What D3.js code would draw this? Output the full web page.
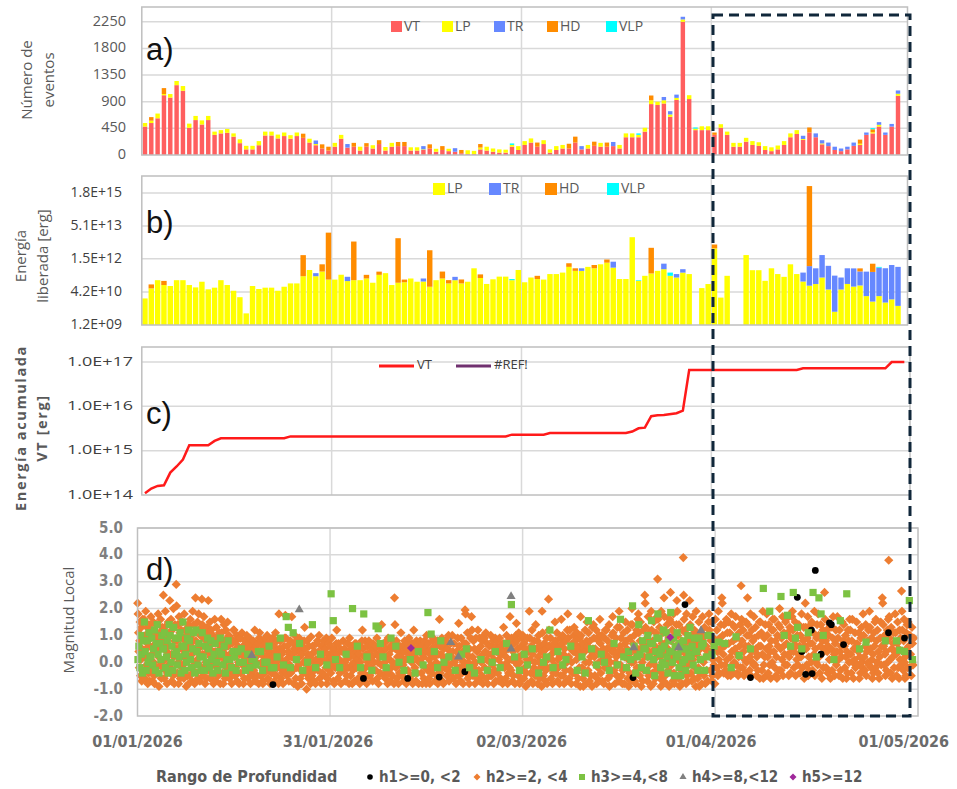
<!DOCTYPE html>
<html>
<head>
<meta charset="utf-8">
<script src="https://cdnjs.cloudflare.com/ajax/libs/d3/7.8.5/d3.min.js"></script>
<style>
    body { margin: 0; background: #fff; }
    svg { display: block; font-family: "Open Sans", "DejaVu Sans", sans-serif; }
    .narrow { font-family: "Liberation Sans Narrow", "DejaVu Sans Condensed", sans-serif; font-weight: bold; }
</style>
</head>
<body>
<div id="chart"></div>
<script>
(function(d3) {
    'use strict';

    // ---- categories (one per day, 01/01/2026 .. 01/05/2026)
    var startDate = new Date(2026, 0, 1);
    var days = d3.range(121);
    var dateLabels = ['01/01/2026', '31/01/2026', '02/03/2026', '01/04/2026', '01/05/2026'];

    // ---- a) number of events per day
    var countKeys = ['VT', 'LP', 'TR', 'HD', 'VLP'];
    var vtCount = [480,540,620,1010,970,1180,1085,460,590,515,
        590,340,365,375,310,200,95,95,165,330,
        330,280,320,275,320,290,210,165,110,75,
        140,275,125,140,75,140,110,185,75,140,
        150,150,75,75,85,110,55,85,65,55,
        30,15,15,95,75,55,40,40,140,85,
        170,210,140,185,40,85,110,110,210,95,
        110,155,140,140,150,110,300,300,300,395,
        860,845,870,645,930,2250,945,420,420,420,
        340,460,340,140,140,225,170,155,85,65,
        95,170,300,355,255,380,300,180,150,85,
        65,95,155,170,340,365,480,340,480,1000,
        0];
    var lpCount = [60,40,80,20,60,70,80,70,70,70,
        70,55,55,65,55,65,60,60,70,65,
        65,65,60,60,60,0,65,20,0,0,
        65,65,0,0,65,0,55,0,60,65,
        0,0,55,55,10,0,50,0,40,0,
        0,65,55,30,65,55,55,50,30,65,
        65,70,0,65,55,65,60,0,0,0,
        60,0,65,0,0,60,65,65,40,65,
        65,55,55,40,35,40,65,25,65,65,
        0,60,55,65,65,65,65,60,65,65,
        65,65,65,65,15,0,0,15,0,0,
        0,0,0,20,0,20,30,0,0,35,
        0];
    var trCount = [0,0,0,0,0,0,0,0,0,0,
        0,0,0,0,0,0,0,0,0,0,
        0,0,0,0,0,0,0,60,0,0,
        0,0,60,0,0,0,0,0,0,0,
        0,0,0,0,55,0,0,0,0,60,
        0,0,0,0,0,0,0,0,0,0,
        0,0,0,0,0,0,0,0,0,55,
        0,0,0,0,70,0,0,0,0,0,
        0,0,55,55,55,45,0,0,0,0,
        0,0,0,0,0,0,0,0,0,0,
        0,0,0,0,55,0,65,55,60,55,
        45,45,55,0,40,0,45,40,45,55,
        0];
    var hdCount = [0,60,0,100,0,0,0,0,0,0,
        0,0,0,0,0,0,0,0,0,0,
        0,0,0,0,0,70,0,0,70,65,
        0,0,0,65,0,60,0,65,0,0,
        70,70,0,0,0,70,0,65,0,0,
        55,0,0,60,0,0,0,0,0,0,
        0,0,70,0,0,0,0,80,100,0,
        0,70,0,70,0,0,0,0,0,0,
        80,0,0,0,0,0,0,0,0,0,
        40,0,0,0,0,0,0,0,0,0,
        0,0,0,0,0,85,0,0,0,0,
        0,0,0,70,0,50,0,0,0,0,
        0];
    var vlpCount = [0,0,0,0,0,0,0,0,0,0,
        0,0,0,0,0,0,0,0,0,0,
        0,0,0,0,0,0,0,0,0,0,
        0,0,0,0,0,0,0,0,0,0,
        0,0,0,0,0,0,0,0,0,0,
        0,0,0,0,0,0,0,0,25,0,
        0,0,0,0,0,0,0,0,0,0,
        0,0,0,0,0,0,0,0,25,0,
        0,0,0,0,0,0,0,20,0,0,
        0,0,0,0,0,0,0,0,0,0,
        0,0,0,0,0,0,0,0,0,0,
        0,0,0,0,0,20,0,0,0,0,
        0];
    var countTicks = [0, 450, 900, 1350, 1800, 2250];

    // ---- b) released energy per day [erg]
    var energyKeys = ['LP', 'TR', 'HD', 'VLP'];
    var lpEnergy = [2.1e10,6.2e10,1.5e11,8.9e10,8.0e10,1.5e11,1.5e11,8.9e10,6.9e10,1.27e11,
        5.6e10,6.7e10,1.5e11,8.9e10,4.8e10,2.4e10,4.2e9,8.0e10,5.8e10,6.7e10,
        6.7e10,4.8e10,7.4e10,1.06e11,1.06e11,2.3e11,4.5e11,2.3e11,3.8e11,1.6e11,
        1.6e11,2.7e11,1.36e11,1.5e11,1.5e11,1.8e11,1.14e11,2.67e11,3.2e11,8.9e10,
        1.14e11,1.2e11,1.8e11,1.27e11,1.3e11,7.4e10,1.5e11,1.8e11,1.06e11,1.5e11,
        1.06e11,1.27e11,5.4e11,1.9e11,1.0e11,1.65e11,2.2e11,2.2e11,1.5e11,4.5e11,
        1.2e11,2.0e11,1.7e11,1.6e11,2.9e11,2.9e11,3.4e11,6.3e11,4.1e11,4.1e11,
        6.3e11,5.4e11,8.3e11,9.9e11,5.8e11,1.7e11,1.7e11,1.54e13,1.4e11,2.4e11,
        3.1e11,4.1e11,4.9e11,2.4e11,2.0e11,3.4e11,2.9e11,0,6.4e10,9.9e10,
        4.6e12,2.3e10,2.4e11,0,0,2.25e12,4.4e11,4.4e11,1.4e11,5.4e11,
        2.9e11,2.15e11,8.3e11,2.9e11,1.3e11,8.3e10,9.9e10,2.0e11,5.5e10,5e9,
        5.5e10,1.0e11,7.5e10,8.5e10,2.7e10,1.5e10,2.7e10,1.35e10,1.9e10,9.4e9,
        0];
    var trEnergy = [[27,9e10],[32,8e10],[44,5e10],[49,6.5e10],[69,1.3e11],[74,5.2e11],
        [82,4e11],[84,9e10],[85,1.5e11],[104,2.1e11],[105,6e11],[106,4.4e11],[107,2.05e12],
        [108,6.5e11],[109,2.4e11],[110,1.45e11],[111,4.4e11],[112,4.6e11],[113,3e11],
        [114,3.5e11],[115,3.5e11],[116,5.5e11],[117,5.3e11],[118,7.5e11],[119,6.2e11]];
    var hdEnergy = [[1,3.3e10],[3,5e10],[25,2.0e12],[28,4.5e11],[29,2.5e13],[33,9.5e12],
        [35,8.7e10],[37,1.1e11],[40,1.37e13],[41,4e10],[45,3.7e12],[47,2e11],[48,4.5e10],
        [50,5.6e10],[53,9e10],[62,7e10],[67,3e11],[68,1.3e11],[71,2.3e11],[73,4e11],
        [80,4.6e12],[90,2.4e12],[105,3.8e15],[113,1.5e11],[115,5.2e11]];
    var vlpEnergy = [[58,2e10],[78,1e10],[83,1e11],[116,5e10]];
    var energyTicks = [1.2e9, 4.2e10, 1.5e12, 5.1e13, 1.8e15];

    // ---- c) accumulated VT energy [erg]
    var cumDays = [0,1,2,3,4,5,6,7,10,11,12,22,23,57,58,63,64,76,77,78,79,80,81,82,84,85,86,103,104,117,118,120];
    var cumEnergy = [1.1e14,1.4e14,1.6e14,1.65e14,3.2e14,4.4e14,6.3e14,1.32e15,1.32e15,1.66e15,1.9e15,1.9e15,
        2.1e15,2.1e15,2.3e15,2.3e15,2.5e15,2.5e15,2.7e15,3.2e15,3.3e15,6.0e15,6.3e15,6.4e15,7.0e15,8.0e15,
        6.6e16,6.6e16,7.2e16,7.2e16,1.0e17,1.0e17];
    var cumTicks = [1e14, 1e15, 1e16, 1e17];

    // ---- d) local magnitude by depth range (one string of magnitudes per day)
    var h2ByDay = [
        '2.2 1.8 1.1 0.4 -0.2 0.8 1.5 -0.5 0.1 1.3', '1.6 0.2 -0.6 1.0 1.9 0.5 -0.1 1.3 0.7 -0.8',
        '0.9 1.7 -0.3 0.3 1.2 -0.7 0.6 1.5 0.0 -0.5', '1.4 -0.4 0.8 1.8 0.2 -0.9 1.1 0.5 -0.1 1.6',
        '2.5 0.7 -0.6 1.3 0.1 1.9 -0.3 0.9 0.4 -0.8', '2.3 1.0 -0.2 1.6 0.3 -0.7 1.2 0.6 -0.5 2.0',
        '2.9 2.1 0.8 -0.4 1.4 0.0 -0.8 1.7 0.5 1.1', '1.5 -0.1 0.9 -0.6 1.8 0.4 1.2 -0.3 0.7 -0.9',
        '1.3 0.2 -0.5 1.6 0.6 -0.2 1.0 -0.7 0.3 1.9', '2.4 0.8 -0.4 1.2 0.1 1.5 -0.6 0.5 1.8 -0.1',
        '2.35 1.4 0.3 -0.5 0.9 1.7 -0.2 0.6 -0.8 1.1', '2.3 1.0 -0.3 0.5 1.5 -0.6 0.2 1.2 0.7 -0.1',
        '1.6 0.4 -0.7 0.9 1.3 -0.2 0.1 0.7 -0.5', '1.6 1.1 0.2 -0.4 0.8 -0.8 0.5 1.4 0.0',
        '1.5 0.6 -0.3 1.0 -0.6 0.3 0.9 -0.1', '1.2 0.2 -0.5 0.8 -0.2 0.5 1.0 -0.7',
        '0.9 -0.4 0.4 1.1 -0.1 0.6 -0.8', '1.0 0.3 -0.6 0.7 -0.2 0.1 0.9 -0.4',
        '0.8 -0.3 0.5 1.2 -0.7 0.2 0.6', '1.1 0.4 -0.5 0.8 0.0 -0.2 0.6 -0.8',
        '0.7 -0.1 1.0 0.3 -0.6 0.5 -0.3', '0.9 0.2 -0.4 0.6 -0.7 0.4 1.1',
        '1.8 0.5 -0.2 0.8 -0.6 0.1 0.3 -0.4', '1.75 0.9 0.1 -0.5 0.6 -0.2 0.4',
        '1.7 0.3 -0.3 0.7 -0.8 0.5 1.0', '0.6 -0.1 0.9 0.2 -0.6 0.4 -0.3',
        '1.3 0.5 -0.4 0.1 -1.0 0.8 -0.2', '0.95 0.3 -0.5 0.6 -0.2 0.0 -0.7',
        '0.8 -0.3 0.4 1.0 -0.6 0.2', '0.7 0.1 -0.5 0.5 -0.2 0.9 -0.8',
        '0.6 -0.4 0.2 0.9 -0.1 0.4 -0.7', '1.2 0.3 -0.6 0.7 -0.2 0.1',
        '0.8 -0.3 0.5 0.0 -0.7 0.3', '0.9 0.2 -0.5 0.6 -0.1 -0.8',
        '0.7 -0.2 0.4 0.1 -0.6 0.5', '1.2 0.5 -0.4 0.2 -0.7 0.8',
        '0.8 0.1 -0.5 0.4 -0.2 0.6', '0.6 -0.3 0.3 0.9 -0.6 0.0',
        '1.4 0.4 -0.1 0.7 -0.5 0.2', '0.9 -0.4 0.3 0.1 -0.7 0.6',
        '2.4 1.4 0.5 -0.2 0.8 -0.6 0.2', '1.1 0.2 -0.5 0.6 -0.1 0.4',
        '0.7 -0.3 0.3 0.9 -0.6 0.1', '1.2 0.5 -0.2 0.3 -0.7 0.8',
        '0.8 0.0 -0.4 0.6 -0.8 0.3', '1.0 0.4 -0.3 0.7 -0.6 0.1',
        '0.9 -0.2 0.5 0.2 -0.7 0.6', '1.6 0.6 -0.4 0.3 -0.1 0.9 -0.7',
        '0.8 0.1 -0.5 0.5 -0.3 1.0', '1.0 0.4 -0.6 0.7 0.0 -0.3',
        '1.45 0.6 -0.2 0.3 -0.7 0.9 0.1', '1.95 1.8 0.7 -0.4 0.3 1.1 -0.6 0.0',
        '1.7 1.2 0.2 -0.5 0.8 -0.1 0.5', '1.2 0.5 -0.3 0.9 -0.7 0.2 0.6',
        '0.9 -0.2 0.4 1.1 -0.6 0.1 0.7', '1.0 0.3 -0.5 0.6 -0.1 0.8 -0.8',
        '0.8 -0.4 0.5 0.1 -0.7 0.9 0.3', '1.3 0.4 -0.2 0.7 -0.6 0.2 1.0',
        '1.7 0.6 -0.3 0.9 0.1 -0.7 0.4', '1.45 0.8 -0.1 0.5 -0.5 1.1 0.2 -0.8',
        '1.0 0.3 -0.6 0.7 -0.2 0.5 -0.9', '1.9 0.9 0.1 -0.4 0.6 -0.7 1.2 0.3',
        '1.4 0.5 -0.3 0.8 -0.8 0.2 1.0', '1.9 1.1 0.4 -0.5 0.7 -0.1 0.2 -0.7',
        '2.35 1.2 0.6 -0.2 0.9 -0.6 0.3', '1.5 0.8 -0.4 0.4 1.1 -0.7 0.1',
        '1.6 0.7 -0.1 1.0 -0.5 0.3 -0.8 0.5', '1.8 0.9 0.2 -0.6 1.2 -0.3 0.5',
        '1.3 0.4 -0.4 0.8 -0.8 0.1 1.1 0.6', '1.7 1.0 0.3 -0.2 0.7 -0.6 -0.9 0.5',
        '1.5 0.6 -0.3 1.1 0.0 -0.7 0.8', '1.4 0.9 0.2 -0.5 0.5 -0.1 1.2 -0.8',
        '1.6 0.7 -0.4 0.3 1.0 -0.7 0.1', '1.2 0.5 -0.2 0.8 -0.6 0.2 1.4 -0.9',
        '1.7 1.1 0.4 -0.3 0.6 -0.8 0.0 0.9', '1.9 1.3 0.6 -0.1 0.9 -0.5 0.3 -0.8',
        '1.5 0.8 -0.2 0.5 1.2 -0.6 0.1 -0.9', '2.0 1.4 0.7 0.0 -0.4 1.0 -0.7 0.4',
        '1.8 1.1 0.3 -0.5 0.8 1.5 -0.2 -0.9 0.5', '2.5 2.2 1.3 0.6 -0.3 0.9 -0.7 0.2 1.7',
        '1.9 1.2 0.4 -0.4 0.8 -0.8 1.5 0.1 -0.1', '3.1 1.6 0.9 -0.2 0.5 1.3 -0.6 0.2 -0.9 1.9',
        '2.4 1.7 0.7 -0.5 1.1 0.3 -0.8 1.4 0.0', '2.6 1.5 0.8 -0.1 1.2 0.4 -0.7 1.8 -0.4',
        '2.3 1.9 1.0 0.2 -0.6 1.4 0.6 -0.9 0.0', '3.9 2.5 1.6 0.7 -0.3 1.1 0.3 -0.8 1.8 -0.5',
        '2.3 1.4 0.5 -0.4 1.0 -0.7 0.8 1.7 0.1', '1.9 1.1 0.3 -0.6 0.7 -0.2 1.5 -0.9',
        '1.7 0.9 0.0 -0.5 1.3 0.5 -0.8 0.2', '1.8 1.2 0.4 -0.3 0.8 1.5 -0.7',
        '1.6 0.8 -0.2 1.2 0.4 -0.5 1.9', '2.4 2.2 1.0 0.3 -0.4 1.4 0.6 -0.1',
        '1.5 0.7 -0.3 1.1 0.2 -0.5 1.8', '1.3 0.5 1.7 -0.1 0.9 -0.4 0.3',
        '2.85 1.6 0.8 -0.2 1.2 0.4 -0.5', '2.4 1.4 0.6 1.0 -0.3 0.2 1.8',
        '1.7 0.9 -0.1 1.3 0.5 -0.5 0.2', '1.5 0.6 1.1 -0.3 0.3 1.9 -0.6',
        '1.8 1.0 0.2 -0.4 1.4 0.6 -0.1', '1.2 0.4 1.6 -0.2 0.8 -0.5',
        '2.0 1.3 0.5 -0.3 0.9 0.1 1.7', '1.6 0.7 -0.1 1.1 0.3 -0.5',
        '1.9 1.2 0.4 -0.2 0.8 1.5', '1.4 0.6 -0.4 1.0 0.2 1.8',
        '2.2 1.3 0.5 -0.1 0.9 1.7 -0.5', '1.5 0.7 -0.3 1.1 0.3 1.9',
        '1.8 1.0 0.2 -0.4 0.6 1.4', '2.6 1.6 0.8 -0.2 1.2 0.4',
        '1.3 0.5 -0.3 0.9 1.7 0.1', '1.7 0.9 0.1 -0.5 1.2 0.4',
        '1.4 0.6 -0.2 1.0 0.2 -0.6', '1.2 0.3 -0.4 0.8 1.6 0.0',
        '1.5 0.7 -0.1 0.4 1.1 -0.6', '1.8 1.0 0.2 -0.3 0.6 1.4',
        '1.9 1.3 0.5 -0.2 0.9 0.1 -0.6', '1.6 0.8 0.0 1.2 -0.4 0.4',
        '2.4 2.2 1.4 0.6 -0.1 1.0 0.3 -0.5', '3.8 1.7 0.9 0.1 -0.4 1.3 0.5',
        '1.8 1.1 0.3 -0.5 0.7 1.5 -0.2', '2.65 1.9 1.2 0.4 -0.3 0.8 1.6 0.0 -0.6',
        '1.5 0.6 -0.2 1.0'
    ];
    // more h2 events inside the main band, same days
    var h2MoreByDay = [
        '-0.7 0.5 1.6 -0.3 0.9 0.2', '0.1 -0.4 1.4 0.6 -0.7 0.9', '-0.8 0.4 1.0 -0.2 1.4 0.7',
        '0.6 -0.6 0.0 1.3 -0.2 0.9', '-0.4 0.6 1.5 -0.1 0.3 1.1', '0.2 -0.8 0.8 1.4 -0.4 0.5',
        '-0.6 0.6 1.2 0.2 -0.2 0.9', '0.1 1.0 -0.5 0.5 1.4 -0.8', '-0.3 0.8 1.4 0.0 -0.8 0.5',
        '0.3 -0.7 1.0 -0.3 0.6 1.3', '0.0 0.8 -0.6 1.3 0.4 -0.3', '-0.5 0.4 1.0 -0.8 0.0 0.8',
        '0.3 -0.4 1.1 0.5 -0.8 0.8', '-0.6 0.3 1.2 -0.2 0.6 0.9', '0.2 -0.8 0.7 -0.4 0.4 1.2',
        '-0.4 0.6 0.0 -0.8 0.3 0.9', '0.2 -0.6 0.8 -0.2 0.5 0.0', '-0.8 0.4 -0.1 0.6 -0.5 0.2',
        '0.0 -0.5 0.7 0.3 -0.8 0.9', '-0.7 0.2 0.5 -0.4 0.9 0.1', '0.4 -0.8 0.2 0.8 -0.4 0.0',
        '-0.5 0.0 0.8 -0.2 0.3 -0.8', '0.4 -0.8 0.0 0.6 -0.3 0.9', '-0.7 0.3 -0.1 0.8 -0.4 0.2',
        '0.1 -0.6 0.4 -0.2 0.8 -0.9', '-0.8 0.3 0.6 -0.4 0.0 0.8', '0.3 -0.6 0.6 -0.3 0.2 -0.8',
        '-0.3 0.4 -0.8 0.1 0.7 -0.1', '0.0 -0.8 0.6 -0.4 0.3 0.8', '-0.6 0.3 0.0 0.7 -0.3 0.2',
        '0.3 -0.8 0.5 -0.2 0.0 0.7', '-0.4 0.5 -0.8 0.0 0.4 -0.1', '0.1 -0.5 0.7 -0.2 0.4 -0.8',
        '-0.3 0.4 0.0 -0.7 0.7 0.2', '0.3 -0.8 0.0 0.6 -0.4 0.8', '-0.2 0.3 -0.8 0.6 0.0 -0.5',
        '0.2 -0.7 0.7 -0.3 0.0 0.5', '-0.8 0.2 0.6 -0.4 0.4 -0.1', '0.0 -0.6 0.5 -0.3 0.8 -0.8',
        '-0.2 0.5 -0.5 0.0 0.8 -0.8', '0.0 -0.8 0.4 -0.4 0.6 -0.1', '-0.7 0.8 -0.3 0.1 -0.8 0.5',
        '0.4 -0.5 0.0 0.7 -0.8 0.2', '-0.4 0.1 0.6 -0.8 0.0 0.4', '0.2 -0.6 0.8 -0.2 0.5 -0.8',
        '-0.8 0.3 -0.1 0.5 -0.4 0.8', '0.0 -0.5 0.8 -0.8 0.3 -0.3', '0.2 -0.8 0.5 -0.2 0.7 0.0',
        '-0.7 0.3 -0.1 0.7 -0.4 0.2', '0.1 -0.8 0.4 -0.2 0.9 -0.5', '-0.4 0.4 -0.8 0.0 0.7 -0.1',
        '0.2 -0.8 0.5 -0.2 0.9 -0.4', '-0.8 0.0 0.9 -0.3 0.4 -0.6', '0.0 -0.5 0.8 -0.8 0.3 1.0',
        '-0.8 0.3 -0.3 0.6 0.0 -0.5', '0.1 -0.3 0.9 -0.7 0.4 0.6', '-0.6 0.6 -0.1 0.3 -0.8 0.7',
        '0.0 -0.8 0.5 -0.4 0.8 -0.2', '-0.5 0.2 0.7 -0.8 0.0 1.0', '0.0 -0.7 0.6 -0.3 0.9 0.3',
        '-0.4 0.1 0.9 -0.8 0.4 0.0', '-0.8 0.5 -0.2 0.8 0.0 -0.5', '0.0 -0.6 0.6 -0.2 0.4 -0.9',
        '-0.3 0.5 0.9 -0.8 0.1 0.6', '0.1 -0.8 0.5 -0.4 0.7 -0.1', '-0.2 0.6 -0.8 0.2 0.9 -0.5',
        '0.2 -0.3 0.8 -0.7 0.0 1.2', '-0.8 0.0 0.7 -0.4 0.4 1.0', '0.3 -0.6 0.5 -0.2 0.9 -0.9',
        '-0.4 0.4 1.2 0.0 -0.8 0.8', '0.2 -0.5 0.4 -0.9 1.3 0.5', '-0.6 0.4 -0.2 0.8 0.0 1.0',
        '0.5 -0.8 0.9 -0.2 1.2 0.3', '-0.5 0.0 0.6 -0.3 1.0 0.4', '0.2 -0.5 1.3 -0.1 0.4 -0.7',
        '-0.3 0.4 1.1 -0.8 0.2 0.7', '0.3 -0.4 0.9 -0.7 1.4 0.0', '-0.8 0.2 1.2 -0.2 0.5 1.6',
        '0.0 -0.7 0.6 1.2 -0.3 0.2', '-0.5 0.4 1.1 -0.1 0.7 -0.9', '0.6 -0.6 1.1 -0.3 0.3 1.7',
        '-0.4 0.7 0.0 1.1 -0.7 0.4', '0.5 -0.3 0.9 -0.9 1.6 0.2', '-0.8 0.1 1.0 -0.5 0.6 1.4',
        '0.4 -0.3 0.8 -0.8 1.2 -0.1', '-0.7 0.5 1.3 -0.1 0.8 0.0', '0.3 -0.6 1.2 -0.2 0.6 -0.9',
        '-0.4 0.5 1.1 0.1 -0.8 0.9', '0.6 -0.3 1.0 -0.7 0.3 1.5', '-0.5 0.1 0.9 -0.1 0.6 -0.8',
        '0.1 -0.4 0.9 0.5 1.4 -0.1', '-0.3 0.7 1.6 0.1 1.1 -0.5', '0.4 -0.1 1.4 0.8 -0.4 0.0',
        '-0.5 0.2 1.1 0.6 1.4 -0.2', '0.1 -0.4 0.6 1.5 0.0 1.0', '-0.5 0.4 1.2 0.0 0.8 -0.1',
        '0.3 -0.3 1.0 0.6 1.5 -0.6', '-0.1 0.9 0.2 1.4 -0.5 0.5', '0.4 -0.6 0.8 1.2 0.0 1.6',
        '0.2 -0.6 1.0 0.6 1.4 -0.3', '-0.5 0.6 1.1 0.3 -0.1 1.5', '0.2 1.3 -0.4 0.9 0.5 1.7',
        '-0.5 0.6 0.1 1.0 -0.1 0.3', '0.4 -0.2 0.8 1.3 -0.6 0.6', '0.2 -0.3 1.1 0.7 1.4 0.0',
        '-0.5 0.5 0.0 0.9 1.4 -0.1', '0.3 -0.6 0.8 1.2 -0.2 0.5', '-0.4 0.6 1.0 0.1 1.4 -0.6',
        '0.3 -0.5 0.7 1.2 -0.1 0.4', '-0.3 0.6 0.2 1.5 -0.6 0.8', '0.4 -0.4 1.2 0.8 0.0 1.6',
        '-0.6 0.5 0.1 1.1 -0.2 0.6', '0.2 -0.4 0.9 1.3 0.0 -0.2', '-0.5 0.4 0.8 0.0 1.2 -0.1',
        '0.3 -0.4 1.1 0.6 1.5 -0.2', '-0.6 0.2 0.9 1.5 -0.1 0.6', '0.4 -0.3 0.8 1.2 0.0 1.6',
        '-0.6 0.2 0.7 1.1 -0.2 0.4', '0.5 -0.6 1.2 0.1 0.9 -0.1', '0.2 -0.5 1.1 0.5 1.4 -0.2',
        '0.3 -0.5 1.3 0.7 -0.1 0.9'
    ];
    var h3ByDay = [
        '0.1 0.6 -0.2 1.0 0.3 -0.4 0.8', '1.5 0.4 -0.3 0.8 0.0 1.1 0.2', '0.2 0.9 -0.1 0.5 1.2 -0.3 0.7',
        '1.4 0.3 -0.4 0.7 0.1 1.0 0.5', '0.5 1.1 -0.2 0.2 0.8 -0.4 1.4', '1.0 0.0 0.6 -0.3 1.3 0.3 0.9',
        '0.4 -0.1 0.9 0.2 1.1 -0.4 0.6', '1.5 0.6 -0.3 0.3 0.0 0.9 1.2', '0.8 0.1 -0.2 0.5 1.1 -0.4',
        '1.2 0.4 -0.1 0.7 0.2 -0.3', '1.1 0.2 -0.3 0.6 0.0 0.9', '0.5 -0.2 0.8 0.1 -0.4 0.3',
        '0.7 0.0 -0.3 0.4 0.9', '0.3 -0.1 0.6 -0.4 0.1', '0.8 0.1 -0.2 0.4',
        '0.2 -0.3 0.4 0.0', '0.5 0.0 -0.3', '0.3 -0.2 0.1', '0.1 -0.1 0.4', '0.4 -0.3 0.0',
        '0.0 0.6 -0.2', '-0.2 0.2', '0.9 -0.1', '1.7 1.3 -0.2',
        '1.1 0.1', '0.7 -0.3', '0.0', '1.4 -0.2',
        '0.3', '-0.1', '2.55 1.55 0.1', '-0.2',
        '0.3', '2.0', '0.6 -0.2', '1.8 0.2',
        '-0.3', '1.35 1.25 0.7', '0.2 -0.2', '0.9',
        '0.6 0.0', '-0.3', '0.1', '-0.4 0.4',
        '-0.1', '1.85 1.05', '0.4 -0.2', '0.8 0.0',
        '0.2', '-0.3', '0.3', '0.5 -0.2',
        '-0.4', '0.1', '-0.3', '0.0 0.4',
        '-0.2', '0.7', '2.15 0.2', '-0.3',
        '0.3 -0.1', '0.5', '-0.4', '0.0 0.2',
        '1.2 -0.2', '0.4', '-0.1 0.1', '0.6',
        '-0.3', '0.2 -0.4', '1.55 0.5', '-0.1',
        '0.3 0.0', '-0.3', '0.7 -0.1', '1.6 0.2',
        '-0.2 0.4 0.1', '2.1 0.6 -0.4 0.2', '1.4 0.3 -0.2 0.8 0.5', '0.5 -0.3 1.0 0.2 0.7',
        '1.55 0.7 0.1 -0.5 0.4 0.9', '1.8 0.9 0.3 -0.2 0.5 0.0 1.2', '0.6 -0.1 1.1 0.2 -0.4 0.8 0.4',
        '1.85 0.4 0.0 0.9 -0.5 0.6 0.2', '1.1 0.3 -0.2 0.7 -0.5 0.5 0.0', '0.8 0.1 -0.3 0.5 1.0 0.3',
        '1.3 0.2 0.6 -0.1 0.9 0.4', '0.4 -0.3 0.9 0.1 0.6', '0.7 -0.3 0.2 1.0', '1.0 0.3 0.6',
        '0.75', '0.7', '-0.2', '0.95 0.25', '', '0.5',
        '', '2.75', '1.9', '', '2.45 1.0', '1.75 0.6',
        '2.6 0.9 1.3', '0.5', '1.1', '2.6 0.2', '2.4 1.8 1.0', '',
        '0.1', '1.55', '2.55', '', '0.5', '0.75',
        '', '', '0.8', '', '0.8 0.45', '0.4',
        '2.3 0.1'
    ];
    var h1Events = [[21.1,-0.83],[35.2,-0.6],[42.1,-0.6],[47.0,-0.55],[51.0,-0.35],[77.2,-0.57],
        [85.3,2.15],[95.5,-0.57],[102.8,2.42],[103.5,0.4],[104.1,-0.45],[105.1,-0.42],[105.0,1.2],
        [105.6,3.42],[106.5,0.3],[107.8,1.47],[108.1,1.4],[110.0,0.66],[117.0,1.1],[119.5,0.9]];
    var h4Events = [[17.8,0.26],[25.2,1.96],[48.8,0.74],[50.0,0.2],[58.2,2.45],[58.2,0.5],
        [77.3,0.55],[84.3,0.55],[87.8,1.18]];
    var h5Events = [[42.6,0.53],[83.0,0.93]];
    var magTicks = [-2, -1, 0, 1, 2, 3, 4, 5];

    var colors = {
        VT: '#ff5f5f', LP: '#ffff00', TR: '#6688ff', HD: '#ff8c00', VLP: '#00ffff',
        h1: '#000000', h2: '#ed7d31', h3: '#7cc242', h4: '#808080', h5: '#a0289b'
    };

    var width = 957,
        height = 789;
    var gridColor = '#d9d9d9',
        frameColor = '#bfbfbf';

    var svg = d3.select('#chart').append('svg')
        .attr('width', width)
        .attr('height', height);

    // shared category scale for a), b), c)
    var xLeft = 141.8, xRight = 907.5;
    var xBarA = d3.scaleBand().domain(days).range([xLeft, xRight]).paddingInner(0.3).paddingOuter(0.15);
    var xBarB = d3.scaleBand().domain(days).range([xLeft, xRight]).paddingInner(0.14).paddingOuter(0.07);
    function xMid(d) { return xBarA(d) + xBarA.bandwidth() / 2; }

    function frame(x0, y0, x1, y1) {
        svg.append('rect')
            .attr('x', x0).attr('y', y0)
            .attr('width', x1 - x0).attr('height', y1 - y0)
            .attr('fill', 'none')
            .attr('stroke', frameColor)
            .attr('stroke-width', 1.5);
    }

    function hGrid(values, y, x0, x1) {
        svg.append('g').selectAll('line')
            .data(values)
            .enter()
            .append('line')
            .attr('x1', x0).attr('x2', x1)
            .attr('y1', y).attr('y2', y)
            .attr('stroke', gridColor)
            .attr('stroke-width', 1.5);
    }

    function vGrid(xs, y0, y1) {
        svg.append('g').selectAll('line')
            .data(xs)
            .enter()
            .append('line')
            .attr('x1', function(d) { return d; }).attr('x2', function(d) { return d; })
            .attr('y1', y0).attr('y2', y1)
            .attr('stroke', gridColor)
            .attr('stroke-width', 1.5);
    }

    function yTitle(lines, xs, cy, size, bold, spacing) {
        lines.forEach(function(t, i) {
            svg.append('text')
                .attr('transform', 'translate(' + xs[i] + ',' + cy + ') rotate(-90)')
                .attr('text-anchor', 'middle')
                .attr('dominant-baseline', 'middle')
                .attr('font-size', size)
                .attr('font-weight', bold ? 'bold' : 'normal')
                .attr('letter-spacing', spacing || 0)
                .attr('fill', '#595959')
                .text(t);
        });
    }

    function panelTag(t, x, y) {
        svg.append('text')
            .attr('x', x).attr('y', y)
            .attr('font-size', 31)
            .attr('font-family', '"Liberation Sans", sans-serif')
            .attr('fill', '#111')
            .text(t);
    }

    function expLabel(v) {
        var s = v.toExponential(1).toUpperCase();
        return s.replace(/E([+-])(\d)$/, 'E$10$2');
    }

    var boundaryX = [30, 60, 90].map(function(d) { return xBarA.step() * d + xLeft; });

    // ================= a) =================
    var yA = d3.scaleLinear().domain([0, 2500]).range([155, 7]);
    hGrid(countTicks.slice(1), yA, xLeft, xRight);
    vGrid(boundaryX, 7, 155);

    var countRows = days.map(function(d) {
        return { day: d, VT: vtCount[d], LP: lpCount[d], TR: trCount[d], HD: hdCount[d], VLP: vlpCount[d] };
    });
    var countStack = d3.stack().keys(countKeys)(countRows);

    svg.append('g').selectAll('g')
        .data(countStack)
        .enter()
        .append('g')
        .attr('fill', function(s) { return colors[s.key]; })
        .selectAll('rect')
        .data(function(s) { return s.filter(function(p) { return p[1] > p[0]; }); })
        .enter()
        .append('rect')
        .attr('x', function(p) { return xBarA(p.data.day); })
        .attr('width', xBarA.bandwidth())
        .attr('y', function(p) { return yA(p[1]); })
        .attr('height', function(p) { return yA(p[0]) - yA(p[1]); });

    frame(xLeft, 7, xRight, 155);

    svg.append('g').selectAll('text')
        .data(countTicks)
        .enter()
        .append('text')
        .attr('x', 126)
        .attr('y', yA)
        .attr('text-anchor', 'end')
        .attr('dominant-baseline', 'middle')
        .attr('font-size', 14.5)
        .attr('fill', '#595959')
        .text(function(d) { return d; });

    yTitle(['Número de', 'eventos'], [28, 50], 80, 15, false);
    panelTag('a)', 146, 60);

    var legendA = svg.append('g').selectAll('g')
        .data(countKeys)
        .enter()
        .append('g')
        .attr('transform', function(d, i) {
            return 'translate(' + [391, 442, 494, 547, 606][i] + ',21)';
        });
    legendA.append('rect')
        .attr('width', 11).attr('height', 11)
        .attr('fill', function(d) { return colors[d]; });
    legendA.append('text')
        .attr('x', 13).attr('y', 6)
        .attr('dominant-baseline', 'middle')
        .attr('font-size', 14)
        .attr('fill', '#595959')
        .text(function(d) { return d; });

    // ================= b) =================
    var yB = d3.scaleLog().domain([1.2e9, 1.125e16]).range([325, 176]);
    hGrid(energyTicks.slice(1), yB, xLeft, xRight);
    vGrid(boundaryX, 176, 325);

    var energyByKey = { LP: lpEnergy, TR: [], HD: [], VLP: [] };
    [['TR', trEnergy], ['HD', hdEnergy], ['VLP', vlpEnergy]].forEach(function(pair) {
        var arr = days.map(function() { return 0; });
        pair[1].forEach(function(p) { arr[p[0]] = p[1]; });
        energyByKey[pair[0]] = arr;
    });

    var energySegs = [];
    days.forEach(function(d) {
        var top = 0;
        energyKeys.forEach(function(k) {
            var v = energyByKey[k][d];
            if (v > 0) {
                energySegs.push({ day: d, key: k, y0: Math.max(top, 1.2e9), y1: top + v });
                top += v;
            }
        });
    });

    svg.append('g').selectAll('rect')
        .data(energySegs)
        .enter()
        .append('rect')
        .attr('x', function(s) { return xBarB(s.day); })
        .attr('width', xBarB.bandwidth())
        .attr('y', function(s) { return yB(s.y1); })
        .attr('height', function(s) { return Math.max(0, yB(s.y0) - yB(s.y1)); })
        .attr('fill', function(s) { return colors[s.key]; });

    frame(xLeft, 176, xRight, 325);

    svg.append('g').selectAll('text')
        .data(energyTicks)
        .enter()
        .append('text')
        .attr('x', 122)
        .attr('y', yB)
        .attr('text-anchor', 'end')
        .attr('dominant-baseline', 'middle')
        .attr('font-size', 14)
        .attr('fill', '#404040')
        .text(expLabel);

    yTitle(['Energía', 'liberada [erg]'], [22, 44], 256, 15, false);
    panelTag('b)', 146, 233);

    var legendB = svg.append('g').selectAll('g')
        .data(energyKeys)
        .enter()
        .append('g')
        .attr('transform', function(d, i) {
            return 'translate(' + [433, 489, 545, 607][i] + ',183)';
        });
    legendB.append('rect')
        .attr('width', 12).attr('height', 12)
        .attr('fill', function(d) { return colors[d]; });
    legendB.append('text')
        .attr('x', 14).attr('y', 6)
        .attr('dominant-baseline', 'middle')
        .attr('font-size', 14)
        .attr('fill', '#595959')
        .text(function(d) { return d; });

    // ================= c) =================
    var cRight = 910;
    var yC = d3.scaleLog().domain([1e14, 2.18e17]).range([495, 347]);
    hGrid(cumTicks.slice(1), yC, xLeft, cRight);
    vGrid(boundaryX, 347, 495);

    var cumLine = d3.line()
        .x(function(d, i) { return xMid(cumDays[i]); })
        .y(function(d) { return yC(d); });

    svg.append('path')
        .datum(cumEnergy)
        .attr('d', cumLine)
        .attr('fill', 'none')
        .attr('stroke', '#ff1a1a')
        .attr('stroke-width', 2.5);

    frame(xLeft, 347, cRight, 495);

    svg.append('g').selectAll('text')
        .data(cumTicks)
        .enter()
        .append('text')
        .attr('x', 133)
        .attr('y', yC)
        .attr('text-anchor', 'end')
        .attr('dominant-baseline', 'middle')
        .attr('font-size', 13.5)
        .attr('fill', '#404040')
        .attr('textLength', 66)
        .attr('lengthAdjust', 'spacingAndGlyphs')
        .text(expLabel);

    yTitle(['Energía acumulada', 'VT [erg]'], [22, 43], 428, 14.5, true, 1.6);
    panelTag('c)', 146, 424);

    var legendC = [{ name: 'VT', color: '#ff1a1a', x: 379 }, { name: '#REF!', color: '#70306f', x: 456 }];
    legendC.forEach(function(l) {
        svg.append('line')
            .attr('x1', l.x).attr('x2', l.x + 35)
            .attr('y1', 366).attr('y2', 366)
            .attr('stroke', l.color)
            .attr('stroke-width', 3);
        svg.append('text')
            .attr('x', l.x + 38).attr('y', 366)
            .attr('dominant-baseline', 'middle')
            .attr('font-size', 13)
            .attr('fill', '#404040')
            .text(l.name);
    });

    // ================= d) =================
    var dLeft = 137.5, dRight = 918;
    var xD = d3.scaleLinear().domain([0, 121.6]).range([dLeft, dRight]);
    var yD = d3.scaleLinear().domain([-2, 5]).range([716, 528]);
    var tickDays = dateLabels.map(function(s) {
        var p = s.split('/');
        return d3.timeDay.count(startDate, new Date(+p[2], +p[1] - 1, +p[0]));
    });

    hGrid(magTicks.slice(1), yD, dLeft, dRight);
    vGrid(tickDays.slice(1, 4).map(xD), 528, 716);

    // events of a day are spread over that day in the order listed
    function spreadDay(strings) {
        var pts = [];
        strings.forEach(function(s, d) {
            var vals = s.split(' ').filter(Boolean).map(Number);
            vals.forEach(function(v, j) {
                pts.push([d + (j + 0.5) / vals.length, v]);
            });
        });
        return pts;
    }
    var h2Events = spreadDay(h2ByDay.map(function(s, d) { return s + ' ' + h2MoreByDay[d]; }));
    var h3Events = spreadDay(h3ByDay);

    function diamond(r) {
        return 'M0,' + (-r) + 'L' + r + ',0L0,' + r + 'L' + (-r) + ',0Z';
    }

    var gD = svg.append('g');

    gD.selectAll('path.h2')
        .data(h2Events)
        .enter()
        .append('path')
        .attr('class', 'h2')
        .attr('d', diamond(4.6))
        .attr('transform', function(p) { return 'translate(' + xD(p[0]) + ',' + yD(p[1]) + ')'; })
        .attr('fill', colors.h2);

    gD.selectAll('circle.h1')
        .data(h1Events)
        .enter()
        .append('circle')
        .attr('class', 'h1')
        .attr('cx', function(p) { return xD(p[0]); })
        .attr('cy', function(p) { return yD(p[1]); })
        .attr('r', 3.4)
        .attr('fill', colors.h1);

    gD.selectAll('rect.h3')
        .data(h3Events)
        .enter()
        .append('rect')
        .attr('class', 'h3')
        .attr('x', function(p) { return xD(p[0]) - 3.6; })
        .attr('y', function(p) { return yD(p[1]) - 3.6; })
        .attr('width', 7.2).attr('height', 7.2)
        .attr('fill', colors.h3);

    gD.selectAll('path.h4')
        .data(h4Events)
        .enter()
        .append('path')
        .attr('class', 'h4')
        .attr('d', d3.symbol().type(d3.symbolTriangle).size(36))
        .attr('transform', function(p) { return 'translate(' + xD(p[0]) + ',' + yD(p[1]) + ')'; })
        .attr('fill', colors.h4);

    gD.selectAll('path.h5')
        .data(h5Events)
        .enter()
        .append('path')
        .attr('class', 'h5')
        .attr('d', diamond(4))
        .attr('transform', function(p) { return 'translate(' + xD(p[0]) + ',' + yD(p[1]) + ')'; })
        .attr('fill', colors.h5);

    frame(dLeft, 528, dRight, 716);

    svg.append('g').selectAll('text')
        .data(magTicks)
        .enter()
        .append('text')
        .attr('class', 'narrow')
        .attr('x', 123)
        .attr('y', yD)
        .attr('text-anchor', 'end')
        .attr('dominant-baseline', 'middle')
        .attr('font-size', 15)
        .attr('fill', '#7f7f7f')
        .text(function(d) { return d.toFixed(1); });

    svg.append('g').selectAll('text')
        .data(dateLabels)
        .enter()
        .append('text')
        .attr('class', 'narrow')
        .attr('x', function(d, i) { return xD(tickDays[i]) + [0, -2, -1, -4, -4][i]; })
        .attr('y', 742)
        .attr('text-anchor', 'middle')
        .attr('dominant-baseline', 'middle')
        .attr('font-size', 16)
        .attr('fill', '#6b6b6b')
        .text(function(d) { return d; });

    yTitle(['Magnitud Local'], [70], 620, 15, false);
    panelTag('d)', 146, 580);

    // depth legend
    var legendY = 777;
    svg.append('text')
        .attr('class', 'narrow')
        .attr('x', 156).attr('y', legendY)
        .attr('dominant-baseline', 'middle')
        .attr('font-size', 16)
        .attr('fill', '#595959')
        .text('Rango de Profundidad');

    var depthLegend = [
        { key: 'h1', label: 'h1>=0, <2', x: 370 },
        { key: 'h2', label: 'h2>=2, <4', x: 477 },
        { key: 'h3', label: 'h3>=4,<8', x: 582 },
        { key: 'h4', label: 'h4>=8,<12', x: 683 },
        { key: 'h5', label: 'h5>=12', x: 793 }
    ];
    depthLegend.forEach(function(l) {
        var g = svg.append('g').attr('transform', 'translate(' + l.x + ',' + legendY + ')');
        if (l.key === 'h1') {
            g.append('circle').attr('r', 2.8).attr('fill', colors.h1);
        } else if (l.key === 'h3') {
            g.append('rect').attr('x', -3).attr('y', -3).attr('width', 6).attr('height', 6).attr('fill', colors.h3);
        } else if (l.key === 'h4') {
            g.append('path').attr('d', d3.symbol().type(d3.symbolTriangle).size(22)).attr('fill', colors.h4);
        } else {
            g.append('path').attr('d', diamond(3.5)).attr('fill', colors[l.key]);
        }
        g.append('text')
            .attr('class', 'narrow')
            .attr('x', 9)
            .attr('dominant-baseline', 'middle')
            .attr('font-size', 15)
            .attr('fill', '#595959')
            .text(l.label);
    });

    // highlighted window (April)
    svg.append('rect')
        .attr('x', 713).attr('y', 15)
        .attr('width', 197).attr('height', 701)
        .attr('fill', 'none')
        .attr('stroke', '#10273a')
        .attr('stroke-width', 3)
        .attr('stroke-dasharray', '10,6');

})(window.d3);
</script>
</body>
</html>
